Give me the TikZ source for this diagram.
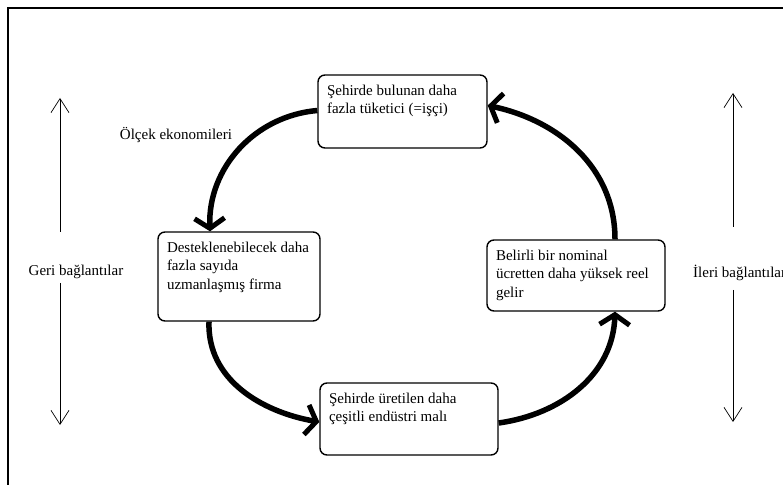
\documentclass[tikz,border=0pt]{standalone}
\usepackage{fontspec}
\setmainfont{Liberation Serif}
\usetikzlibrary{arrows.meta}
\newcommand{\boxtext}[3]{\parbox[c][#2][t]{#1}{\raggedright #3}}
\tikzset{
  box/.style={draw, line width=1.4pt, rounded corners=7pt, inner xsep=9pt, inner ysep=10pt, anchor=center, font=\fontsize{15}{18.5}\selectfont},
  flow/.style={line width=5.5pt, -{Straight Barb[length=10pt,width=30pt,line width=5pt]}},
  link/.style={line width=0.6pt, -{Straight Barb[length=14pt,width=18pt,line width=0.7pt]}},
  lbl/.style={inner sep=0pt, font=\fontsize{15}{18.5}\selectfont}
}
\begin{document}
\begin{tikzpicture}[x=1pt,y=1pt]
\useasboundingbox (0,0) rectangle (783,484);
% frame
\coordinate (f1) at (8,-10);
\coordinate (f2) at (8,476);
\coordinate (f3) at (800,476);
\draw[line width=2pt] (f1) -- (f2) -- (f3);
% boxes
\node[box] (T) at (402.5,372.5) {\boxtext{151pt}{53pt}{Şehirde bulunan daha\\ fazla tüketici (=işçi)}};
\node[box] (L) at (239,207.5) {\boxtext{144pt}{69pt}{Desteklenebilecek daha\\ fazla sayıda\\ uzmanlaşmış firma}};
\node[box] (R) at (576,208.5) {\boxtext{160pt}{51pt}{Belirli bir nominal\\ ücretten daha yüksek reel\\ gelir}};
\node[box] (B) at (409,65) {\boxtext{160pt}{52pt}{Şehirde üretilen daha\\ çeşitli endüstri malı}};
% cycle arrows
\draw[flow] ([yshift=1pt]T.west) to[out=185,in=92] ([xshift=-29pt]L.north);
\draw[flow] ([xshift=-30pt]L.south) to[out=-92,in=170] ([yshift=-3pt]B.west);
\draw[flow] ([yshift=-4pt]B.east) to[out=8,in=-92] ([xshift=39pt]R.south);
\draw[flow] ([xshift=39pt]R.north) to[out=90,in=-12] ([yshift=6pt]T.east);
% label
\node[lbl] (oe) at (176,349) {Ölçek ekonomileri};
% side arrows
\node[lbl] (geri) at (76,212) {Geri bağlantılar};
\coordinate (gu1) at (60,252);
\coordinate (gu2) at (60,386);
\coordinate (gd1) at (60,201);
\coordinate (gd2) at (60,59);
\draw[link] (gu1) -- (gu2);
\draw[link] (gd1) -- (gd2);
\node[lbl, anchor=west] (ileri) at (693,211) {İleri bağlantılar};
\coordinate (iu1) at (733,257);
\coordinate (iu2) at (733,391);
\coordinate (id1) at (733,194);
\coordinate (id2) at (733,62);
\draw[link] (iu1) -- (iu2);
\draw[link] (id1) -- (id2);
\end{tikzpicture}
\end{document}
